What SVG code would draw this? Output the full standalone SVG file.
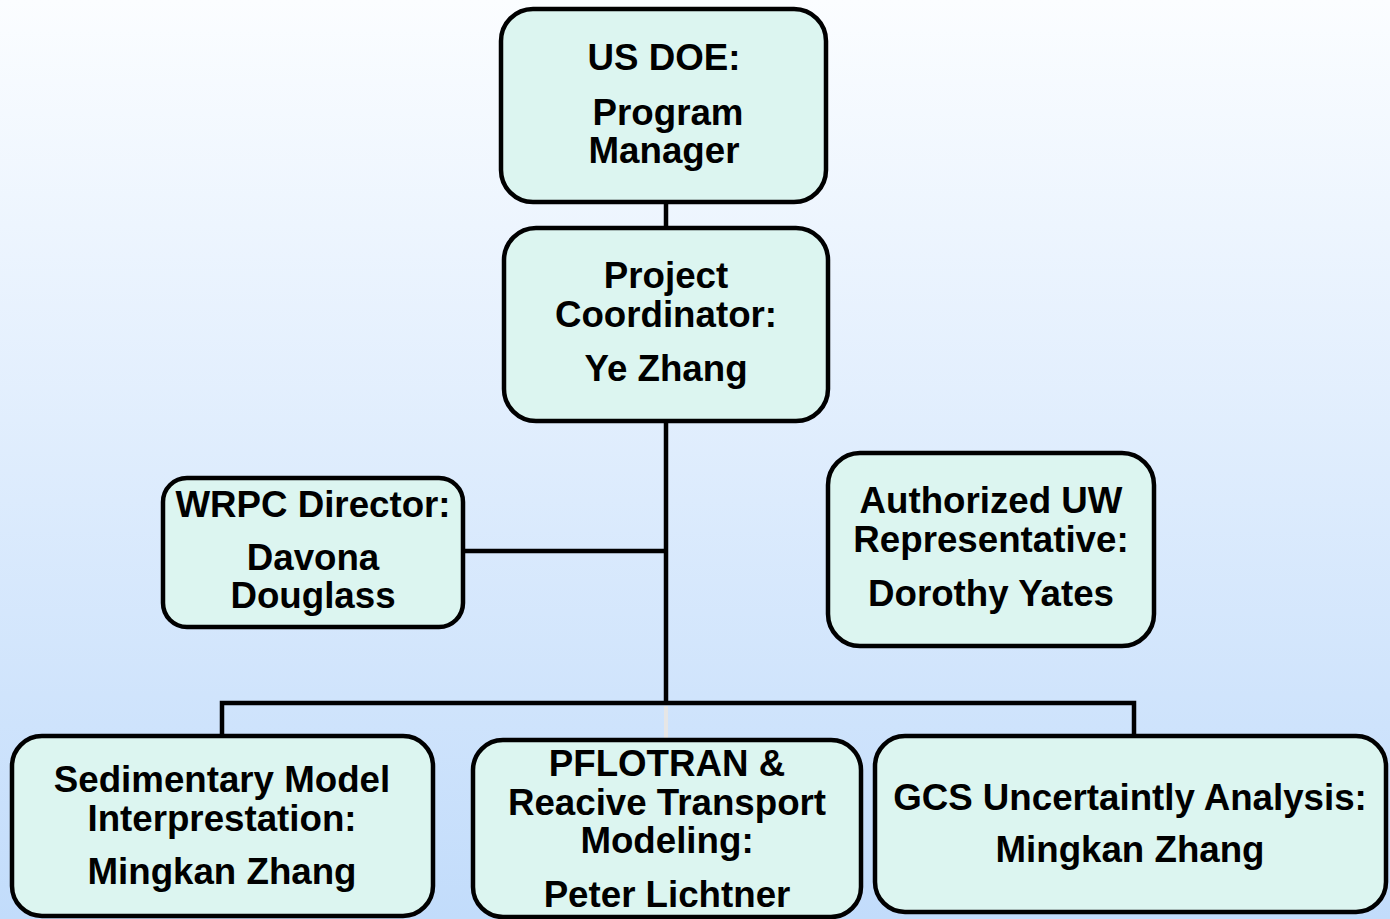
<svg xmlns="http://www.w3.org/2000/svg" width="1390" height="919" viewBox="0 0 1390 919">
<defs>
<linearGradient id="bg" x1="0" y1="0" x2="0" y2="1">
<stop offset="0" stop-color="#fbfdff"/>
<stop offset="1" stop-color="#c2dcfb"/>
</linearGradient>
</defs>
<style>
.box{fill:#dcf5f0;stroke:#000;stroke-width:4.5}
.t{font-family:"Liberation Sans",Arial,sans-serif;font-weight:bold;font-size:36.7px;fill:#000;text-anchor:middle}
.c{fill:none;stroke:#000;stroke-width:4.5}
</style>
<rect x="0" y="0" width="1390" height="919" fill="url(#bg)"/>
<g id="connectors">
<line class="c" x1="666" y1="202" x2="666" y2="228"/>
<line class="c" x1="666" y1="422" x2="666" y2="703"/>
<line class="c" x1="463" y1="551" x2="666" y2="551"/>
<polyline class="c" points="222,736 222,703 1134,703 1134,736"/>
<line x1="666" y1="706" x2="666" y2="740" stroke="#e6e6e6" stroke-width="4"/>
</g>
<g id="doe">
<rect class="box" x="501" y="9" width="325" height="193" rx="32"/>
<text class="t" x="664" y="70">US DOE:</text>
<text class="t" x="668" y="125">Program</text>
<text class="t" x="664" y="163">Manager</text>
</g>
<g id="coordinator">
<rect class="box" x="504" y="228" width="324" height="193" rx="32"/>
<text class="t" x="666" y="288">Project</text>
<text class="t" x="666" y="327">Coordinator:</text>
<text class="t" x="666" y="381">Ye Zhang</text>
</g>
<g id="wrpc">
<rect class="box" x="163" y="478" width="300" height="149" rx="24"/>
<text class="t" x="313" y="517">WRPC Director:</text>
<text class="t" x="313" y="570">Davona</text>
<text class="t" x="313" y="608">Douglass</text>
</g>
<g id="uw">
<rect class="box" x="828" y="453" width="326" height="193" rx="32"/>
<text class="t" x="991" y="513">Authorized UW</text>
<text class="t" x="991" y="552">Representative:</text>
<text class="t" x="991" y="606">Dorothy Yates</text>
</g>
<g id="sedimentary">
<rect class="box" x="12" y="736" width="421" height="180" rx="30"/>
<text class="t" x="222" y="792">Sedimentary Model</text>
<text class="t" x="222" y="831">Interprestation:</text>
<text class="t" x="222" y="884">Mingkan Zhang</text>
</g>
<g id="pflotran">
<rect class="box" x="473" y="740" width="388" height="177" rx="30"/>
<text class="t" x="667" y="776">PFLOTRAN &amp;</text>
<text class="t" x="667" y="815">Reacive Transport</text>
<text class="t" x="667" y="853">Modeling:</text>
<text class="t" x="667" y="907">Peter Lichtner</text>
</g>
<g id="gcs">
<rect class="box" x="875" y="736" width="511" height="176" rx="30"/>
<text class="t" x="1130" y="810">GCS Uncertaintly Analysis:</text>
<text class="t" x="1130" y="862">Mingkan Zhang</text>
</g>
</svg>
